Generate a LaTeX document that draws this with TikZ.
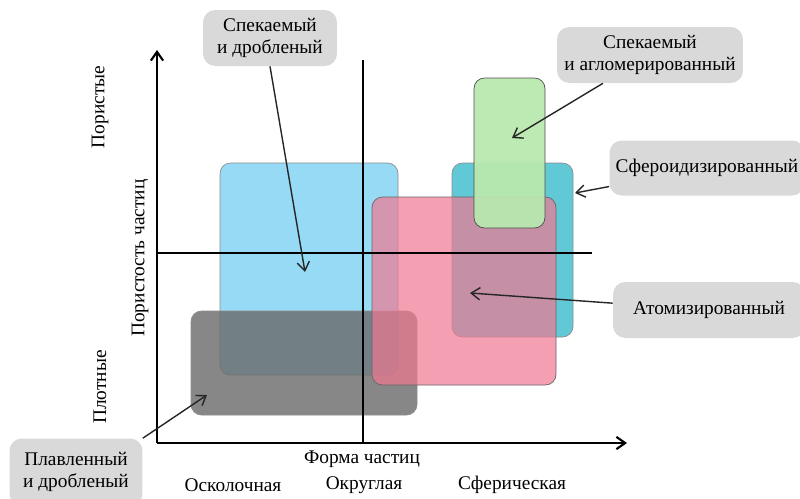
\documentclass[tikz,border=0pt]{standalone}
\usepackage{fontspec}
\setmainfont{Liberation Serif}
\usetikzlibrary{arrows.meta}

\definecolor{regblue}{RGB}{150,218,245}
\definecolor{reggray}{RGB}{105,105,105}
\definecolor{regcyan}{RGB}{80,195,210}
\definecolor{regpink}{RGB}{240,120,145}
\definecolor{reggreen}{RGB}{185,232,175}
\definecolor{tagfill}{RGB}{217,217,217}

\begin{document}
\begin{tikzpicture}[
  x=0.02cm, y=-0.02cm,
  tag/.style={
    fill=tagfill, draw=none,
    font=\fontsize{11}{13}\selectfont,
    align=center, rounded corners=7pt,
    minimum height=1.12cm, inner sep=2pt
  },
  axlabel/.style={
    font=\fontsize{11}{13}\selectfont, inner sep=1pt
  },
  region/.style={
    draw=black!45, thin, rounded corners=6pt
  },
  axis/.style={-{Straight Barb[length=5pt,width=7pt]}, line width=1.2pt},
  divider/.style={line width=1.2pt},
  pointer/.style={-{Straight Barb[length=5pt,width=7pt]}, thick, black!85}
]
\useasboundingbox (0,0) rectangle (800,498);

%% Области
\draw[region, fill=regblue] (220,163) rectangle (398,375);
\draw[region, fill=reggray, fill opacity=0.8] (191,311) rectangle (417,415);
\draw[region, fill=regcyan, fill opacity=0.9] (452,163) rectangle (573,337);
\draw[region, draw=black!60, fill=regpink, fill opacity=0.7] (372,197) rectangle (556,385);
\draw[region, draw=black!70, fill=reggreen, fill opacity=0.95] (474,78) rectangle (545,228);

%% Оси
\coordinate (origin) at (157,443);
\coordinate (ytop) at (157,50);
\coordinate (xend) at (627,443);
\draw[axis] (origin) -- (ytop);
\draw[axis] (origin) -- (xend);

\coordinate (vtop) at (363,60);
\coordinate (vbot) at (363,443);
\draw[divider] (vtop) -- (vbot);
\coordinate (hleft) at (157,253);
\coordinate (hright) at (592,253);
\draw[divider] (hleft) -- (hright);

%% Подписи осей
\node[axlabel, rotate=90] (porous) at (100,107) {Пористые};
\node[axlabel, rotate=90] (porosity) at (140,258) {Пористость частиц};
\node[axlabel, rotate=90] (dense) at (100,387) {Плотные};
\node[axlabel] (shape) at (362,459) {Форма частиц};
\node[axlabel] (splinter) at (233,485) {Осколочная};
\node[axlabel] (round) at (364,485) {Округлая};
\node[axlabel] (sphere) at (512,485) {Сферическая};

%% Метки
\node[tag, minimum width=2.68cm] (tagsd) at (270,38)
  {Спекаемый\\и дробленый};
\node[tag, minimum width=3.72cm] (tagsa) at (650,55)
  {Спекаемый\\и агломерированный};
\node[tag, minimum width=3.9cm, minimum height=1.1cm] (tagsph) at (707,168)
  {Сфероидизированный};
\node[tag, minimum width=3.84cm] (tagat) at (709,310)
  {Атомизированный};
\node[tag, minimum width=2.66cm, minimum height=1.34cm] (tagpd) at (76,472)
  {Плавленный\\и дробленый};

\coordinate (tipsd) at (305,272);
\coordinate (tipsa) at (512,138);
\coordinate (tipsph) at (575,193);
\coordinate (tipat) at (470,293);
\coordinate (tippd) at (207,395);

\draw[pointer] (tagsd.south) -- (tipsd);
\draw[pointer] (tagsa) -- (tipsa);
\draw[pointer] (tagsph) -- (tipsph);
\draw[pointer] (tagat) -- (tipat);
\draw[pointer] (tagpd.north east) -- (tippd);

\end{tikzpicture}
\end{document}
